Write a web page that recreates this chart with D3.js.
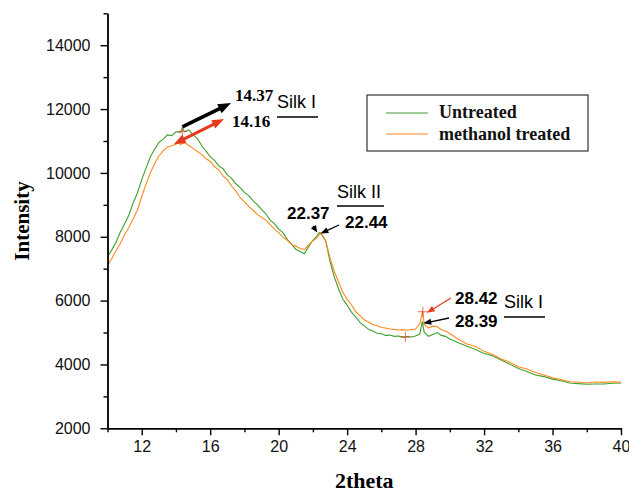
<!DOCTYPE html>
<html>
<head>
<meta charset="utf-8">
<script src="https://cdn.jsdelivr.net/npm/d3@7"></script>
<style>
  html, body { margin: 0; padding: 0; background: #fff; }
  svg { display: block; }
</style>
</head>
<body>
<svg id="chart" width="629" height="494"></svg>
<script>
// XRD patterns: [2theta (deg), intensity (counts)]
const untreated = [
  [10,7370],[10.25,7590],[10.5,7830],[10.75,8150],[11,8410],[11.25,8680],[11.5,9060],[11.75,9370],
  [12,9790],[12.25,10150],[12.5,10500],[12.75,10740],[13,10950],[13.25,11060],[13.5,11190],[13.75,11170],
  [14,11290],[14.25,11270],[14.37,11410],[14.5,11290],[14.75,11350],[15,11190],[15.25,11080],[15.5,10860],
  [15.75,10680],[16,10510],[16.25,10390],[16.5,10220],[16.75,10130],[17,9940],[17.25,9830],[17.5,9660],
  [17.75,9540],[18,9390],[18.25,9290],[18.5,9130],[18.75,9010],[19,8860],[19.25,8720],[19.5,8520],
  [19.75,8410],[20,8240],[20.25,8130],[20.5,7920],[20.75,7770],[21,7610],[21.25,7540],[21.5,7470],
  [21.75,7690],[22,7890],[22.25,8030],[22.37,8130],[22.5,8070],[22.75,7860],[23,7230],[23.25,6740],
  [23.5,6370],[23.75,6040],[24,5860],[24.25,5640],[24.5,5490],[24.75,5320],[25,5210],[25.25,5100],
  [25.5,5050],[25.75,4980],[26,4960],[26.25,4910],[26.5,4920],[26.75,4880],[27,4890],[27.25,4850],
  [27.5,4870],[27.75,4860],[28,4890],[28.25,4960],[28.39,5350],[28.5,5010],[28.75,4880],[29,4940],
  [29.25,5000],[29.5,4910],[29.75,4880],[30,4800],[30.5,4680],[31,4570],[31.5,4470],[32,4340],
  [32.5,4270],[33,4140],[33.5,4010],[34,3870],[34.5,3780],[35,3670],[35.5,3620],[36,3540],
  [36.5,3490],[37,3420],[37.5,3400],[38,3380],[38.5,3390],[39,3390],[39.5,3410],[40,3420]
];

const methanolTreated = [
  [10,7100],[10.25,7320],[10.5,7570],[10.75,7790],[11,8060],[11.25,8290],[11.5,8560],[11.75,8840],
  [12,9260],[12.25,9640],[12.5,10000],[12.75,10290],[13,10530],[13.25,10690],[13.5,10810],[13.75,10840],
  [14,10900],[14.16,10960],[14.25,10890],[14.5,10950],[14.75,10860],[15,10770],[15.25,10670],[15.5,10580],
  [15.75,10450],[16,10360],[16.25,10200],[16.5,10090],[16.75,9910],[17,9790],[17.25,9590],[17.5,9430],
  [17.75,9230],[18,9090],[18.25,8950],[18.5,8830],[18.75,8700],[19,8610],[19.25,8520],[19.5,8390],
  [19.75,8240],[20,8130],[20.25,7990],[20.5,7890],[20.75,7760],[21,7710],[21.25,7630],[21.5,7600],
  [21.75,7750],[22,7870],[22.25,7970],[22.44,8130],[22.5,8100],[22.75,7880],[23,7340],[23.25,6920],
  [23.5,6580],[23.75,6260],[24,6040],[24.25,5870],[24.5,5650],[24.75,5530],[25,5400],[25.25,5330],
  [25.5,5250],[25.75,5210],[26,5160],[26.25,5140],[26.5,5110],[26.75,5100],[27,5080],[27.25,5090],
  [27.5,5070],[27.75,5100],[28,5110],[28.25,5290],[28.42,5680],[28.5,5260],[28.75,5140],[29,5200],
  [29.25,5190],[29.5,5090],[29.75,5050],[30,4970],[30.5,4790],[31,4640],[31.5,4560],[32,4410],
  [32.5,4310],[33,4170],[33.5,4070],[34,3930],[34.5,3860],[35,3750],[35.5,3670],[36,3580],
  [36.5,3530],[37,3460],[37.5,3450],[38,3420],[38.5,3450],[39,3440],[39.5,3460],[40,3440]
];

// Axis ticks
const xMajorTicks = [12, 16, 20, 24, 28, 32, 36, 40];
const xMinorTicks = [10, 14, 18, 22, 26, 30, 34, 38];
const yMajorTicks = [2000, 4000, 6000, 8000, 10000, 12000, 14000];
const yMinorTicks = [3000, 5000, 7000, 9000, 11000, 13000, 15000];

// Peak positions marked on the plot
const peakUntreatedSilkI  = [14.37, 11410];
const peakMethanolSilkI   = [14.16, 10960];
const peakUntreatedSilkII = [22.37, 8130];
const peakMethanolSilkII  = [22.44, 8130];
const peakMethanolSilkI2  = [28.42, 5680];
const peakUntreatedSilkI2 = [28.39, 5350];

// Cursor crosses left on the plot
const cursorMarks = [[14.37, 11300], [28.42, 5650], [27.4, 4870]];

const GREEN = "#3f9f2f";
const ORANGE = "#ff8a1c";
const RED = "#e63a1f";

const svg = d3.select("#chart");
const x = d3.scaleLinear().domain([10, 40]).range([107.5, 621]);
const y = d3.scaleLinear().domain([2000, 15000]).range([428.3, 13.3]);

// clip for curves
svg.append("defs").append("clipPath").attr("id", "plotClip")
  .append("rect").attr("x", x(10)).attr("y", y(15000))
  .attr("width", x(40) - x(10) + 1).attr("height", y(2000) - y(15000));

const line = d3.line().x(d => x(d[0])).y(d => y(d[1]));

const plot = svg.append("g").attr("clip-path", "url(#plotClip)");
plot.append("path").datum(untreated)
  .attr("d", line).attr("fill", "none").attr("stroke", GREEN).attr("stroke-width", 1.1);
plot.append("path").datum(methanolTreated)
  .attr("d", line).attr("fill", "none").attr("stroke", ORANGE).attr("stroke-width", 1.1);

// axes
function styleAxis(g) {
  g.selectAll("path, line").attr("stroke", "#000").attr("stroke-width", 1.4);
  g.selectAll("text").attr("fill", "#111")
    .style("font-family", "'Liberation Sans', Arial, sans-serif").style("font-size", "16px");
}
svg.append("g").attr("transform", `translate(0,${y(2000)})`)
  .call(d3.axisBottom(x).tickValues(xMinorTicks).tickSize(4).tickSizeOuter(0).tickFormat(""))
  .call(styleAxis);
svg.append("g").attr("transform", `translate(0,${y(2000)})`)
  .call(d3.axisBottom(x).tickValues(xMajorTicks).tickSize(7).tickSizeOuter(0).tickPadding(5).tickFormat(d3.format("d")))
  .call(styleAxis);
svg.append("g").attr("transform", `translate(${x(10)},0)`)
  .call(d3.axisLeft(y).tickValues(yMinorTicks).tickSize(4).tickSizeOuter(0).tickFormat(""))
  .call(styleAxis);
svg.append("g").attr("transform", `translate(${x(10)},0)`)
  .call(d3.axisLeft(y).tickValues(yMajorTicks).tickSize(7).tickSizeOuter(0).tickPadding(10).tickFormat(d3.format("d")))
  .call(styleAxis);

// axis titles
const serifBold = "'Liberation Serif', 'Times New Roman', serif";
svg.append("text").attr("transform", "translate(29,221) rotate(-90)")
  .attr("text-anchor", "middle").style("font-family", serifBold)
  .style("font-weight", "bold").style("font-size", "21px").text("Intensity");
svg.append("text").attr("x", (x(10) + x(40)) / 2).attr("y", 488)
  .attr("text-anchor", "middle").style("font-family", serifBold)
  .style("font-weight", "bold").style("font-size", "22px").text("2theta");

// legend
const legend = svg.append("g");
legend.append("rect").attr("x", 367).attr("y", 95).attr("width", 221).attr("height", 56)
  .attr("fill", "#fff").attr("stroke", "#333").attr("stroke-width", 1.2);
[["Untreated", GREEN, 113, 118], ["methanol treated", ORANGE, 134, 140]].forEach(([label, c, ly, ty]) => {
  legend.append("line").attr("x1", 386).attr("x2", 428).attr("y1", ly).attr("y2", ly)
    .attr("stroke", c).attr("stroke-width", 1.2);
  legend.append("text").attr("x", 439).attr("y", ty).style("font-family", serifBold)
    .style("font-weight", "bold").style("font-size", "18px").attr("fill", "#111").text(label);
});

// arrows
function arrow(x1, y1, x2, y2, color, w, headLen, headW, both) {
  const g = svg.append("g");
  const ang = Math.atan2(y2 - y1, x2 - x1);
  const head = (tx, ty, a) => {
    const bx = tx - headLen * Math.cos(a), by = ty - headLen * Math.sin(a);
    const px = -Math.sin(a) * headW / 2, py = Math.cos(a) * headW / 2;
    g.append("polygon").attr("points",
      `${tx},${ty} ${bx + px},${by + py} ${bx - px},${by - py}`).attr("fill", color);
  };
  const sx1 = both ? x1 + headLen * 0.8 * Math.cos(ang) : x1;
  const sy1 = both ? y1 + headLen * 0.8 * Math.sin(ang) : y1;
  g.append("line").attr("x1", sx1).attr("y1", sy1)
    .attr("x2", x2 - headLen * 0.8 * Math.cos(ang)).attr("y2", y2 - headLen * 0.8 * Math.sin(ang))
    .attr("stroke", color).attr("stroke-width", w);
  head(x2, y2, ang);
  if (both) head(x1, y1, ang + Math.PI);
}

arrow(x(peakUntreatedSilkI[0]), y(peakUntreatedSilkI[1]) - 1, 231, 103, "#000", 3.6, 13, 10, false);
arrow(x(peakMethanolSilkI[0]) - 5, y(peakMethanolSilkI[1]) + 2, 224, 119, RED, 3, 12, 9, true);
arrow(313, 226, x(peakUntreatedSilkII[0]) - 2, y(peakUntreatedSilkII[1]), "#000", 1.2, 7, 6, false);
arrow(339, 225, x(peakMethanolSilkII[0]), y(peakMethanolSilkII[1]) + 1, "#000", 1.2, 8, 6, false);
arrow(451, 298, x(peakMethanolSilkI2[0]) + 4, y(peakMethanolSilkI2[1]) + 2, RED, 1.3, 8, 6, false);
arrow(449, 318, x(peakUntreatedSilkI2[0]) + 1, y(peakUntreatedSilkI2[1]) + 2, "#000", 1.3, 8, 6, false);

// cursor crosses
cursorMarks.forEach(([t, v]) => {
  const cx = x(t), cy = y(v);
  svg.append("path").attr("d", `M${cx - 5},${cy}H${cx + 5}M${cx},${cy - 5}V${cy + 5}`)
    .attr("stroke", RED).attr("stroke-width", 1).attr("opacity", 0.75);
});

// annotation labels
const sansBold = "'Liberation Sans', Arial, sans-serif";
function label(tx, ty, s, family, weight, size) {
  svg.append("text").attr("x", tx).attr("y", ty).style("font-family", family)
    .style("font-weight", weight).style("font-size", size + "px").attr("fill", "#000").text(s);
}
function underline(x1, x2, yy) {
  svg.append("line").attr("x1", x1).attr("x2", x2).attr("y1", yy).attr("y2", yy)
    .attr("stroke", "#000").attr("stroke-width", 1.3);
}
label(235, 101, "14.37", serifBold, "bold", 17);
label(232, 127, "14.16", serifBold, "bold", 17);
label(277, 108, "Silk I", sansBold, "normal", 18);
underline(277, 318, 117);

label(337, 198, "Silk II", sansBold, "normal", 18);
underline(337, 384, 206);
label(287, 219, "22.37", sansBold, "bold", 17);
label(345, 228, "22.44", sansBold, "bold", 17);

label(455, 304, "28.42", sansBold, "bold", 17);
label(455, 327, "28.39", sansBold, "bold", 17);
label(504, 308, "Silk I", sansBold, "normal", 18);
underline(504, 545, 317);
</script>
</body>
</html>
